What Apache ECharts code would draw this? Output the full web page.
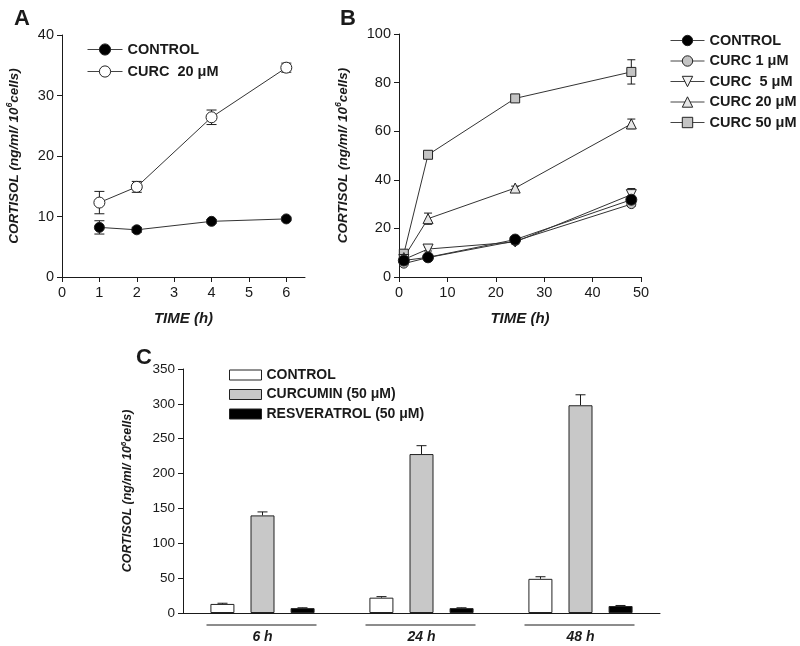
<!DOCTYPE html>
<html><head><meta charset="utf-8">
<script src="https://cdn.jsdelivr.net/npm/echarts@6/dist/echarts.min.js"></script>
<style>html,body{margin:0;padding:0;background:#fff}#c{width:800px;height:646px}</style>
</head><body><div id="c"></div>
<script>
// ---- Panel A data ----
const timesA = [1, 2, 4, 6];
const ctrlA = [8.2, 7.8, 9.2, 9.6];
const ctrlAErr = [1.1, 0.4, 0.3, 0.3];
const curc20A = [12.3, 14.9, 26.4, 34.6];
const curc20AErr = [1.85, 0.9, 1.2, 0.75];
const ticksA_x = [0, 1, 2, 3, 4, 5, 6];
// ---- Panel B data ----
const timesB = [1, 6, 24, 48];
const ctrlB = [6.8, 8.1, 15.4, 31.8];
const ctrlBErr = [0.5, 0.5, 0.8, 1.5];
const curc1B = [5.5, 8.0, 14.8, 30.0];
const curc1BErr = [0.5, 0.5, 0.8, 1.0];
const curc5B = [7.2, 11.5, 14.4, 33.9];
const curc5BErr = [0.5, 0.8, 0.8, 2.5];
const curc20B = [8.0, 24.0, 36.6, 63.0];
const curc20BErr = [0.5, 2.3, 0.8, 2.0];
const curc50B = [9.6, 50.3, 73.5, 84.4];
const curc50BErr = [0.8, 1.5, 0.8, 5.0];
// ---- Panel C data ----
const groupsC = ['6 h', '24 h', '48 h'];
const ctrlC = [13, 22, 49];
const ctrlCErr = [1, 1.5, 3];
const curcC = [140, 228, 298];
const curcCErr = [5, 12, 15];
const resvC = [7, 7, 10];
const resvCErr = [0.5, 0.5, 0.8];

const FONT = 'Liberation Sans, Arial, sans-serif';
const INK = '#1a1a1a';

const chart = echarts.init(document.getElementById('c'), null, {renderer: 'canvas'});

function pairs(xs, ys) { return xs.map((x, i) => [x, ys[i]]); }
function triples(xs, ys, es) { return xs.map((x, i) => [x, ys[i], es[i]]); }

function errRender(capHalf, upOnly, pxOffset) {
  return function (params, api) {
    const x = api.value(0), y = api.value(1), e = api.value(2);
    const top = api.coord([x, y + e]);
    const bot = api.coord([x, upOnly ? y : y - e]);
    const cx = top[0] + (pxOffset || 0);
    const st = {stroke: INK, lineWidth: 1};
    const ch = [
      {type: 'line', shape: {x1: cx, y1: top[1], x2: cx, y2: bot[1]}, style: st},
      {type: 'line', shape: {x1: cx - capHalf, y1: top[1], x2: cx + capHalf, y2: top[1]}, style: st}
    ];
    if (!upOnly) ch.push({type: 'line', shape: {x1: cx - capHalf, y1: bot[1], x2: cx + capHalf, y2: bot[1]}, style: st});
    return {type: 'group', children: ch};
  };
}

const axisCommon = {
  axisLine: {show: true, lineStyle: {color: INK, width: 1}},
  axisTick: {show: true, inside: false, length: 5, lineStyle: {color: INK}},
  splitLine: {show: false},
  axisLabel: {color: INK, fontFamily: FONT, fontSize: 14.5, margin: 8}
};

const yName = '{b|CORTISOL (ng/ml/ 10}{s|6}{b|cells)}';
const yNameStyle = (fs) => ({
  rich: {
    b: {fontFamily: FONT, fontWeight: 'bold', fontStyle: 'italic', fontSize: fs, color: INK},
    s: {fontFamily: FONT, fontWeight: 'bold', fontStyle: 'italic', fontSize: fs * 0.65, color: INK, padding: [0, 0, fs * 0.55, 0]}
  }
});
const xNameStyle = {fontFamily: FONT, fontWeight: 'bold', fontStyle: 'italic', fontSize: 15, color: INK};

const lineStyleCommon = {color: '#333', width: 1};

function lineSeries(name, xi, xs, ys, symbol, size, fill, rotate) {
  return {
    name: name, type: 'line', xAxisIndex: xi, yAxisIndex: xi,
    data: pairs(xs, ys), symbol: symbol, symbolSize: size, symbolRotate: rotate || 0,
    showSymbol: true, z: 3,
    lineStyle: lineStyleCommon,
    itemStyle: {color: fill, borderColor: '#222', borderWidth: 1},
    emphasis: {disabled: true}, animation: false
  };
}
function errSeries(xi, xs, ys, es, cap) {
  return {
    type: 'custom', xAxisIndex: xi, yAxisIndex: xi, data: triples(xs, ys, es),
    renderItem: errRender(cap, false), z: 2, silent: true, animation: false,
    encode: {x: 0, y: [1, 2]}
  };
}

const BARW = 24, BARSTEP = 40;
function barSeries(name, ys, fill) {
  return {
    name: name, type: 'bar', xAxisIndex: 2, yAxisIndex: 2, data: ys,
    barWidth: BARW, barGap: '67%',
    itemStyle: {color: fill, borderColor: '#222', borderWidth: 1},
    emphasis: {disabled: true}, animation: false
  };
}
function barErr(ys, es, k) {
  return {
    type: 'custom', xAxisIndex: 2, yAxisIndex: 2,
    data: ys.map((y, i) => [i, y, es[i]]),
    renderItem: errRender(5, true, (k - 1) * BARSTEP), z: 1, silent: true, animation: false,
    encode: {x: 0, y: [1, 2]}
  };
}

const legendText = {fontFamily: FONT, fontWeight: 'bold', fontSize: 14.5, color: INK};
const legendLine = {width: 1, color: '#444'};
const legendItem = {borderWidth: 1, borderColor: '#222'};
const strip = (n) => n.split('|')[1];

const option = {
  animation: false,
  backgroundColor: '#fff',
  title: [
    {text: 'A', left: 9, top: 3, textStyle: {fontFamily: FONT, fontWeight: 'bold', fontSize: 22, color: INK}},
    {text: 'B', left: 335, top: 3, textStyle: {fontFamily: FONT, fontWeight: 'bold', fontSize: 22, color: INK}},
    {text: 'C', left: 131, top: 342, textStyle: {fontFamily: FONT, fontWeight: 'bold', fontSize: 22, color: INK}}
  ],
  grid: [
    {left: 62, top: 35, width: 243, height: 242},
    {left: 399, top: 34, width: 242, height: 243},
    {left: 183, top: 369, width: 477, height: 244}
  ],
  xAxis: [
    Object.assign({}, axisCommon, {
      type: 'value', gridIndex: 0, min: 0, max: 6.5, interval: 1,
      axisTick: Object.assign({}, axisCommon.axisTick, {customValues: ticksA_x}),
      axisLabel: Object.assign({}, axisCommon.axisLabel, {customValues: ticksA_x}),
      name: 'TIME (h)', nameLocation: 'middle', nameGap: 34, nameTextStyle: xNameStyle
    }),
    Object.assign({}, axisCommon, {
      type: 'value', gridIndex: 1, min: 0, max: 50, interval: 10,
      name: 'TIME (h)', nameLocation: 'middle', nameGap: 34, nameTextStyle: xNameStyle
    }),
    Object.assign({}, axisCommon, {
      type: 'category', gridIndex: 2, data: groupsC,
      axisTick: {show: false},
      axisLabel: {color: INK, fontFamily: FONT, fontSize: 14, fontWeight: 'bold', fontStyle: 'italic', margin: 17}
    })
  ],
  yAxis: [
    Object.assign({}, axisCommon, {
      type: 'value', gridIndex: 0, min: 0, max: 40, interval: 10,
      name: yName, nameLocation: 'middle', nameGap: 40, nameRotate: 90, nameTextStyle: yNameStyle(13.5)
    }),
    Object.assign({}, axisCommon, {
      type: 'value', gridIndex: 1, min: 0, max: 100, interval: 20,
      name: yName, nameLocation: 'middle', nameGap: 48, nameRotate: 90, nameTextStyle: yNameStyle(13.5)
    }),
    Object.assign({}, axisCommon, {
      type: 'value', gridIndex: 2, min: 0, max: 350, interval: 50,
      axisLabel: Object.assign({}, axisCommon.axisLabel, {fontSize: 13.5}),
      name: yName, nameLocation: 'middle', nameGap: 48, nameRotate: 90, nameTextStyle: yNameStyle(12.5)
    })
  ],
  legend: [
    {
      data: ['A|CONTROL', 'A|CURC  20 μM'], formatter: strip, orient: 'vertical',
      left: 82, top: 37, itemWidth: 35, itemHeight: 14, itemGap: 7, textStyle: legendText,
      lineStyle: legendLine, itemStyle: legendItem, selectedMode: false
    },
    {
      data: ['B|CONTROL', 'B|CURC 1 μM', 'B|CURC  5 μM', 'B|CURC 20 μM', 'B|CURC 50 μM'], formatter: strip, orient: 'vertical',
      left: 665, top: 28, itemWidth: 34, itemHeight: 13, itemGap: 5.5, textStyle: legendText,
      lineStyle: legendLine, itemStyle: legendItem, selectedMode: false
    },
    {
      data: ['C|CONTROL', 'C|CURCUMIN (50 μM)', 'C|RESVERATROL (50 μM)'], formatter: strip, orient: 'vertical',
      left: 224, top: 363, itemWidth: 32, itemHeight: 10, itemGap: 5.5, icon: 'rect',
      textStyle: Object.assign({}, legendText, {fontSize: 14}),
      itemStyle: legendItem, selectedMode: false
    }
  ],
  series: [
    errSeries(0, timesA, ctrlA, ctrlAErr, 5),
    errSeries(0, timesA, curc20A, curc20AErr, 5),
    lineSeries('A|CONTROL', 0, timesA, ctrlA, 'circle', 10, '#000'),
    lineSeries('A|CURC  20 μM', 0, timesA, curc20A, 'circle', 11, '#fff'),

    errSeries(1, timesB, ctrlB, ctrlBErr, 4),
    errSeries(1, timesB, curc1B, curc1BErr, 4),
    errSeries(1, timesB, curc5B, curc5BErr, 4),
    errSeries(1, timesB, curc20B, curc20BErr, 4),
    errSeries(1, timesB, curc50B, curc50BErr, 4),
    lineSeries('B|CURC 50 μM', 1, timesB, curc50B, 'rect', 9, '#c4c4c4'),
    lineSeries('B|CURC 20 μM', 1, timesB, curc20B, 'triangle', 10, '#e6e6e6'),
    lineSeries('B|CURC  5 μM', 1, timesB, curc5B, 'triangle', 10, '#f2f2f2', 180),
    lineSeries('B|CURC 1 μM', 1, timesB, curc1B, 'circle', 9, '#c4c4c4'),
    lineSeries('B|CONTROL', 1, timesB, ctrlB, 'circle', 11, '#000'),

    barSeries('C|CONTROL', ctrlC, '#fff'),
    barSeries('C|CURCUMIN (50 μM)', curcC, '#c8c8c8'),
    barSeries('C|RESVERATROL (50 μM)', resvC, '#000'),
    barErr(ctrlC, ctrlCErr, 0),
    barErr(curcC, curcCErr, 1),
    barErr(resvC, resvCErr, 2)
  ]
};
chart.setOption(option);

// underlines beneath the group labels in panel C
const ulines = groupsC.map((g) => {
  const p = chart.convertToPixel({xAxisIndex: 2, yAxisIndex: 2}, [g, 0]);
  return {type: 'line', shape: {x1: p[0] - 56, y1: p[1] + 12, x2: p[0] + 54, y2: p[1] + 12},
    style: {stroke: INK, lineWidth: 1}, silent: true};
});
chart.setOption({graphic: ulines});
</script>
</body></html>
